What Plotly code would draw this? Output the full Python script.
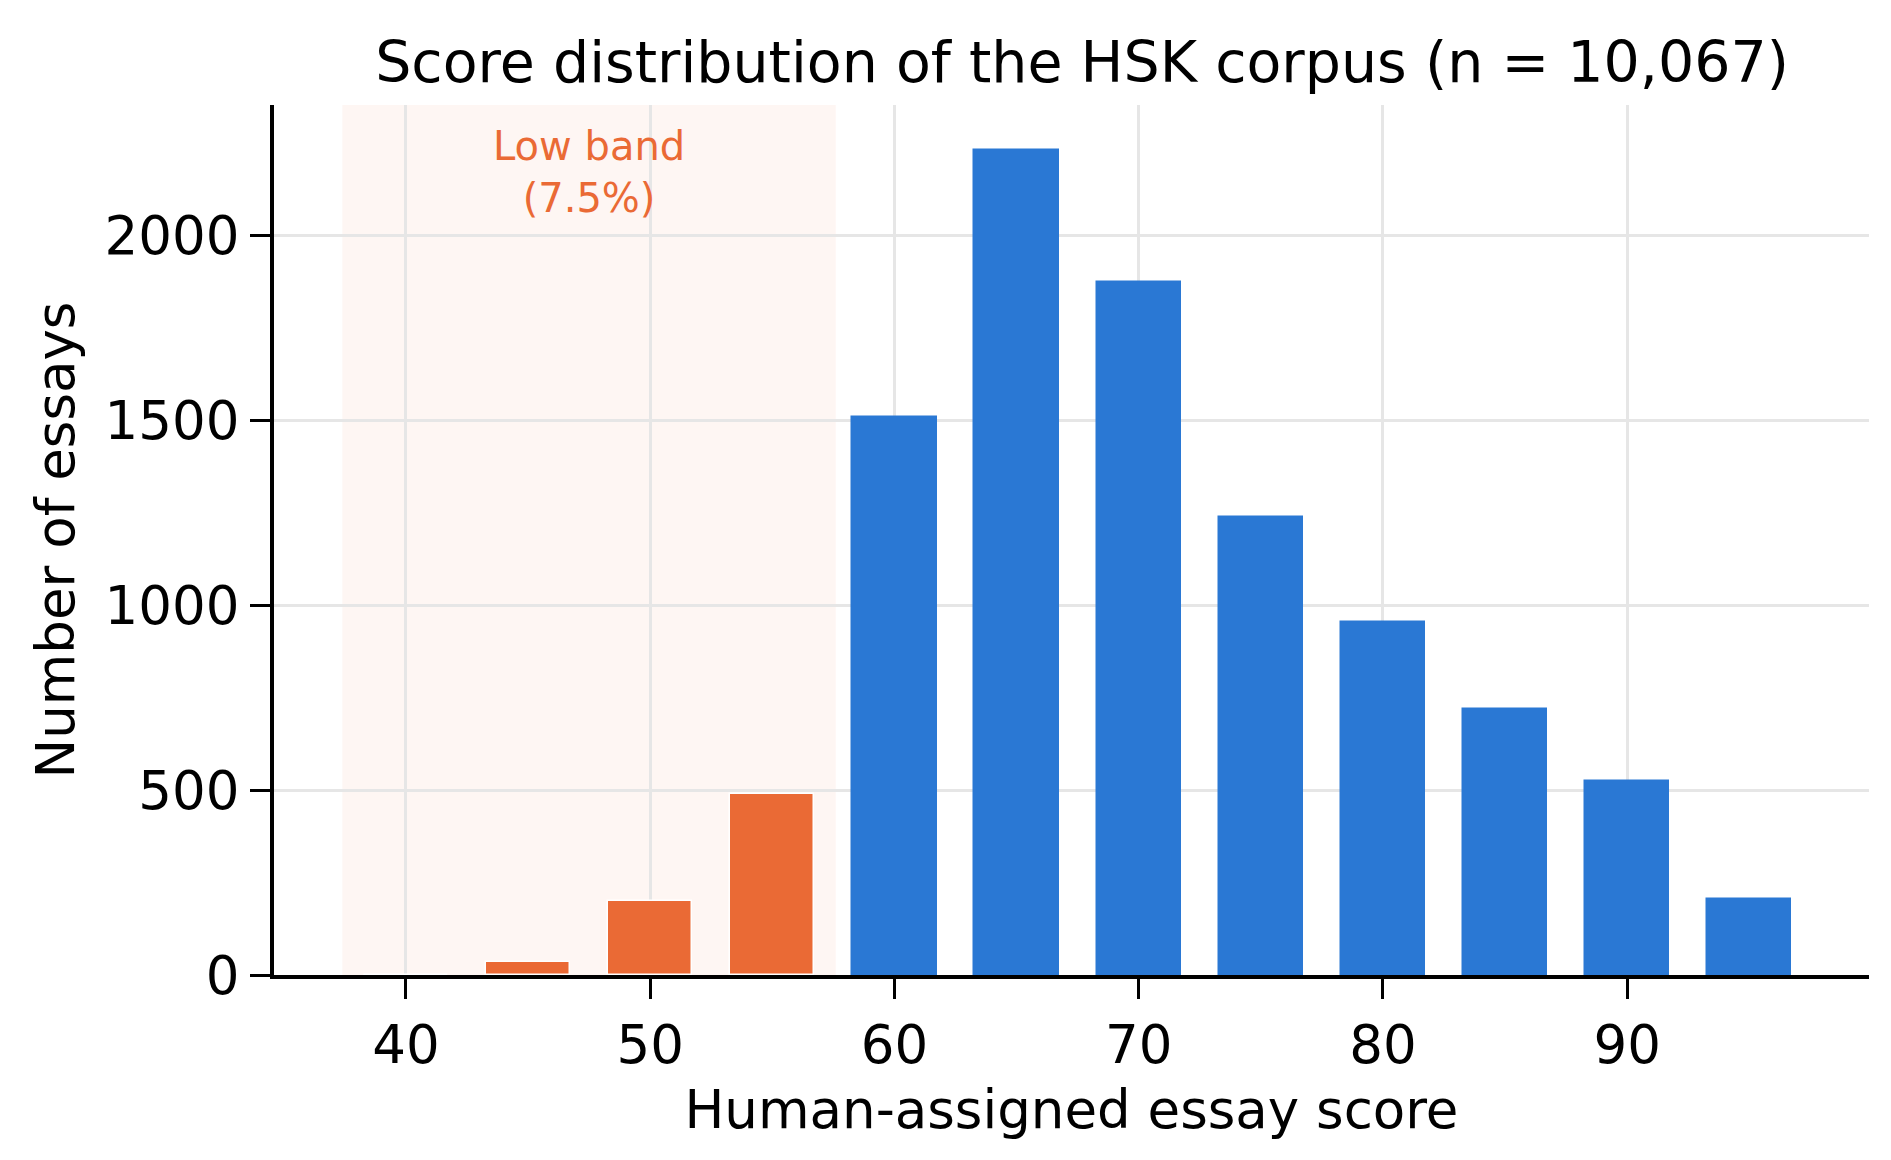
import plotly.graph_objects as go

scores = [40, 45, 50, 55, 60, 65, 70, 75, 80, 85, 90, 95]
counts = [0, 35, 200, 490, 1510, 2230, 1875, 1240, 955, 720, 525, 205]
low_cut = 57.5

ORANGE = "#EA6A35"
BLUE = "#2A78D4"
colors = [ORANGE if s < low_cut else BLUE for s in scores]
edges = ["white" if s < low_cut else BLUE for s in scores]

fig = go.Figure()
fig.add_trace(go.Bar(x=scores, y=counts, width=3.45,
                     marker=dict(color=colors, line=dict(color=edges, width=1.5))))

fig.add_shape(type="rect", xref="x", yref="paper", x0=37.4, x1=57.6, y0=0, y1=1,
              fillcolor="rgba(234,106,53,0.06)", line_width=0, layer="between")
fig.add_annotation(x=47.5, y=2310, xref="x", yref="y", text="Low band<br>(7.5%)",
                   showarrow=False, yanchor="top",
                   font=dict(color=ORANGE, size=40, family="DejaVu Sans"))

fig.update_layout(
    width=1891, height=1160,
    margin=dict(l=266, r=30, t=97, b=193),
    plot_bgcolor="white", paper_bgcolor="white",
    font=dict(family="DejaVu Sans", size=44, color="black"),
    title=dict(text="Score distribution of the HSK corpus (n = 10,067)",
               x=0.568, xanchor="center", y=0.953, yanchor="middle",
               font=dict(size=57)),
    showlegend=False, bargap=0,
)
fig.update_xaxes(range=[34.6, 99.9], tickvals=[40, 50, 60, 70, 80, 90],
                 showgrid=True, gridcolor="#E6E6E6", gridwidth=3,
                 showline=True, linecolor="black", linewidth=4,
                 ticks="outside", ticklen=20, tickwidth=3, tickcolor="black",
                 tickfont=dict(size=53),
                 title=dict(text="Human-assigned essay score", standoff=18))
fig.update_yaxes(range=[0, 2353], tickvals=[0, 500, 1000, 1500, 2000],
                 showgrid=True, gridcolor="#E6E6E6", gridwidth=3,
                 showline=True, linecolor="black", linewidth=4,
                 ticks="outside", ticklen=20, tickwidth=3, tickcolor="black",
                 tickfont=dict(size=53), zeroline=False,
                 title=dict(text="Number of essays", standoff=14))

fig.write_html("out.html")
